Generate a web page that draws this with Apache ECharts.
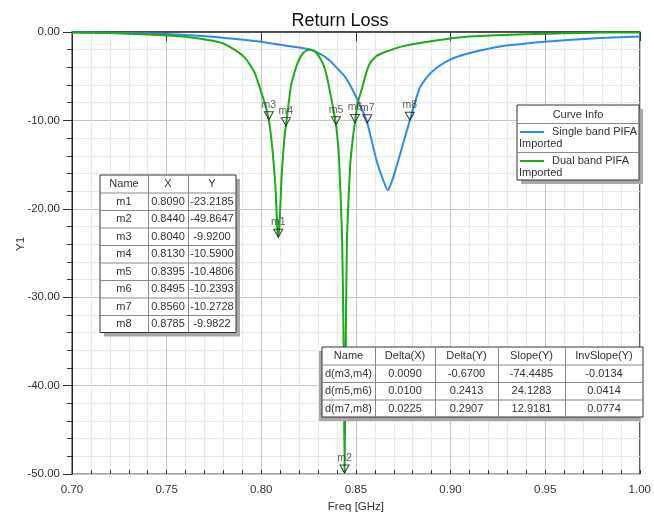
<!DOCTYPE html>
<html><head><meta charset="utf-8">
<script src="https://cdn.jsdelivr.net/npm/echarts@6/dist/echarts.min.js"></script>
<style>html,body{margin:0;padding:0;background:#fff}#c{width:654px;height:518px}</style>
</head><body><div id="c"></div>
<script>
// ---- data ----
const singleFreq = [0.70,0.72,0.746,0.772,0.785,0.798,0.81,0.82,0.8261,0.832,0.836,0.8401,0.844,0.8479,0.8509,0.8535,0.856,0.861,0.8645,0.8668,0.869,0.8723,0.8785,0.8836,0.888,0.8924,0.90,0.9097,0.927,0.9446,0.962,0.979,1.0];
const singleLoss = [-0.03,-0.08,-0.2,-0.5,-0.75,-1.05,-1.45,-1.75,-2.0,-2.6,-3.2,-4.1,-5.0,-6.4,-7.7,-8.9,-10.27,-14.6,-16.8,-17.9,-16.9,-14.6,-9.98,-6.4,-5.0,-4.1,-3.1,-2.4,-1.6,-1.2,-0.9,-0.68,-0.5];
const dualFreq = [0.70,0.72,0.746,0.76,0.772,0.78,0.7843,0.788,0.7913,0.794,0.7965,0.798,0.80,0.802,0.804,0.806,0.8075,0.8084,0.809,0.8097,0.8108,0.8122,0.813,0.8145,0.8157,0.8175,0.8192,0.821,0.8227,0.8245,0.8261,0.828,0.8296,0.8315,0.8331,0.8345,0.8357,0.837,0.8383,0.8395,0.841,0.8427,0.8435,0.844,0.8446,0.8453,0.847,0.8485,0.8495,0.851,0.8532,0.8555,0.8575,0.861,0.8662,0.875,0.8924,0.9097,0.927,0.9446,0.96,0.979,1.0];
const dualLoss = [-0.07,-0.12,-0.33,-0.55,-0.9,-1.3,-1.8,-2.3,-2.9,-3.7,-4.6,-5.5,-6.8,-8.2,-9.92,-13.5,-17.5,-22.0,-23.2,-21.5,-16.0,-12.0,-10.59,-8.0,-6.1,-4.6,-3.5,-2.7,-2.26,-2.05,-2.0,-2.15,-2.5,-3.1,-3.85,-4.9,-6.1,-7.5,-9.0,-10.48,-14.0,-23.1,-35,-49.86,-36,-23.1,-15.0,-11.8,-10.24,-8.0,-6.4,-4.6,-3.5,-2.7,-2.2,-1.6,-0.96,-0.52,-0.33,-0.22,-0.15,-0.07,-0.05];
const markerNames = ['m1','m2','m3','m4','m5','m6','m7','m8'];
const markerX = [0.8090,0.8440,0.8040,0.8130,0.8395,0.8495,0.8560,0.8785];
const markerY = [-23.2185,-49.8647,-9.9200,-10.5900,-10.4806,-10.2393,-10.2728,-9.9822];
const deltaNames = ['d(m3,m4)','d(m5,m6)','d(m7,m8)'];
const deltaX = ['0.0090','0.0100','0.0225'];
const deltaY = ['-0.6700','0.2413','0.2907'];
const slopeY = ['-74.4485','24.1283','12.9181'];
const invSlopeY = ['-0.0134','0.0414','0.0774'];
const seriesNames = ['Single band PIFA', 'Dual band PIFA'];
const seriesColors = ['#2b8cf0', '#17ad17'];

// ---- chart ----
const FONT = 'Liberation Sans, Arial, sans-serif';
const chart = echarts.init(document.getElementById('c'), null, {renderer: 'canvas'});
const zip = (a, b) => a.map((v, i) => [v, b[i]]);

const graphics = [];
function table(x0, y0, colW, rowH, rows, shadowDx, shadowDy) {
  const W = colW.reduce((a, b) => a + b, 0), H = rowH * rows.length;
  graphics.push({type: 'rect', shape: {x: x0 + shadowDx, y: y0 + shadowDy, width: W, height: H}, style: {fill: '#a8a8a8'}, z: 100});
  graphics.push({type: 'rect', shape: {x: x0, y: y0, width: W, height: H}, style: {fill: '#fff', stroke: '#333', lineWidth: 1}, z: 101});
  let cx = x0;
  colW.forEach((w, ci) => {
    if (ci > 0) graphics.push({type: 'line', shape: {x1: cx + 0.5, y1: y0, x2: cx + 0.5, y2: y0 + H}, style: {stroke: '#888', lineWidth: 1}, z: 102});
    rows.forEach((r, ri) => {
      graphics.push({type: 'text', x: cx + w / 2, y: y0 + rowH * ri + rowH / 2 + 0.5,
        style: {text: r[ci], fill: '#333', font: '11px ' + FONT, align: 'center', verticalAlign: 'middle'}, z: 103});
    });
    cx += w;
  });
  for (let ri = 1; ri < rows.length; ri++) {
    graphics.push({type: 'line', shape: {x1: x0, y1: y0 + ri * rowH + 0.5, x2: x0 + W, y2: y0 + ri * rowH + 0.5}, style: {stroke: '#888', lineWidth: 1}, z: 102});
  }
}
const mRows = [['Name', 'X', 'Y']].concat(markerNames.map((n, i) => [n, markerX[i].toFixed(4), markerY[i].toFixed(4)]));
table(100, 175, [48, 40, 48], 17.5, mRows, 4, 4);
const dRows = [['Name', 'Delta(X)', 'Delta(Y)', 'Slope(Y)', 'InvSlope(Y)']].concat(deltaNames.map((n, i) => [n, deltaX[i], deltaY[i], slopeY[i], invSlopeY[i]]));
table(322, 347, [53, 60, 63, 67, 78], 17.5, dRows, -3, 4);

// Legend box (Curve Info)
graphics.push({type: 'rect', shape: {x: 521, y: 109, width: 122, height: 75}, style: {fill: '#a8a8a8'}, z: 100});
graphics.push({type: 'rect', shape: {x: 517, y: 105, width: 122, height: 75}, style: {fill: '#fff', stroke: '#333', lineWidth: 1}, z: 101});
graphics.push({type: 'text', x: 578, y: 115, style: {text: 'Curve Info', fill: '#333', font: '11px ' + FONT, align: 'center', verticalAlign: 'middle'}, z: 103});
graphics.push({type: 'line', shape: {x1: 517, y1: 123.5, x2: 639, y2: 123.5}, style: {stroke: '#888'}, z: 102});
graphics.push({type: 'line', shape: {x1: 517, y1: 152.5, x2: 639, y2: 152.5}, style: {stroke: '#888'}, z: 102});
seriesNames.forEach((n, i) => {
  const yy = 132 + i * 29;
  graphics.push({type: 'line', shape: {x1: 520, y1: yy, x2: 544, y2: yy}, style: {stroke: seriesColors[i], lineWidth: 2}, z: 103});
  graphics.push({type: 'text', x: 552, y: yy, style: {text: n, fill: '#333', font: '11px ' + FONT, verticalAlign: 'middle'}, z: 103});
  graphics.push({type: 'text', x: 519, y: yy + 12, style: {text: 'Imported', fill: '#333', font: '11px ' + FONT, verticalAlign: 'middle'}, z: 103});
});
graphics.push({type: 'text', x: 21, y: 244, rotation: Math.PI / 2, style: {text: 'Y1', fill: '#333', font: '11.5px ' + FONT, align: 'center', verticalAlign: 'middle'}, z: 103});

const option = {
  backgroundColor: '#fff',
  animation: false,
  title: {text: 'Return Loss', left: 335, top: 7, textAlign: 'center',
    textStyle: {fontFamily: FONT, fontSize: 18, fontWeight: 'normal', color: '#111'}},
  grid: {left: 72, right: 8, top: 32, bottom: 36, show: true, borderColor: '#222', borderWidth: 1, backgroundColor: 'transparent'},
  xAxis: [{
    type: 'value', min: 0.70, max: 1.00, interval: 0.05,
    name: 'Freq [GHz]', nameLocation: 'middle', nameGap: 24,
    nameTextStyle: {fontFamily: FONT, fontSize: 11.5, color: '#333'},
    axisLine: {lineStyle: {color: '#333', width: 1.5}},
    axisTick: {show: true, length: 9, lineStyle: {color: '#333'}},
    axisLabel: {formatter: v => v.toFixed(2), fontFamily: FONT, fontSize: 11.5, color: '#333', margin: 10},
    splitLine: {show: true, lineStyle: {color: '#c6c6c6'}},
    minorTick: {show: false, splitNumber: 5},
    minorSplitLine: {show: true, lineStyle: {color: '#e9e9e9'}}
  }, {
    type: 'value', min: 0.70, max: 1.00, interval: 0.01, position: 'bottom',
    axisLine: {show: false}, axisLabel: {show: false}, splitLine: {show: false},
    axisTick: {show: true, inside: true, length: 4, lineStyle: {color: '#333'}}
  }],
  yAxis: {
    type: 'value', min: -50, max: 0, interval: 10,
    axisLine: {show: true, lineStyle: {color: '#222'}},
    axisTick: {show: true, length: 9, lineStyle: {color: '#333'}},
    minorTick: {show: true, splitNumber: 5, length: 5, lineStyle: {color: '#333'}},
    axisLabel: {formatter: v => v.toFixed(2), fontFamily: FONT, fontSize: 11.5, color: '#333', margin: 12},
    splitLine: {show: true, lineStyle: {color: '#c6c6c6'}},
    minorSplitLine: {show: true, lineStyle: {color: '#e9e9e9'}}
  },
  series: [
    {name: seriesNames[0], type: 'line', data: zip(singleFreq, singleLoss), showSymbol: false, smooth: 0.2,
      lineStyle: {color: seriesColors[0], width: 2}, z: 3},
    {name: seriesNames[1], type: 'line', data: zip(dualFreq, dualLoss), showSymbol: false, smooth: 0.15,
      lineStyle: {color: seriesColors[1], width: 2}, z: 4},
    {name: 'markers', type: 'scatter', data: markerNames.map((n, i) => ({name: n, value: [markerX[i], markerY[i]]})),
      symbol: 'path://M0,0 L10,0 L5,9 Z', symbolSize: [9, 8], symbolOffset: [0, -4],
      itemStyle: {color: 'rgba(255,255,255,0)', borderColor: '#111', borderWidth: 1},
      label: {show: true, position: 'top', distance: 1, formatter: p => p.name, fontFamily: FONT, fontSize: 10.5, color: '#333'},
      z: 6}
  ],
  graphic: graphics
};
chart.setOption(option);
</script></body></html>
